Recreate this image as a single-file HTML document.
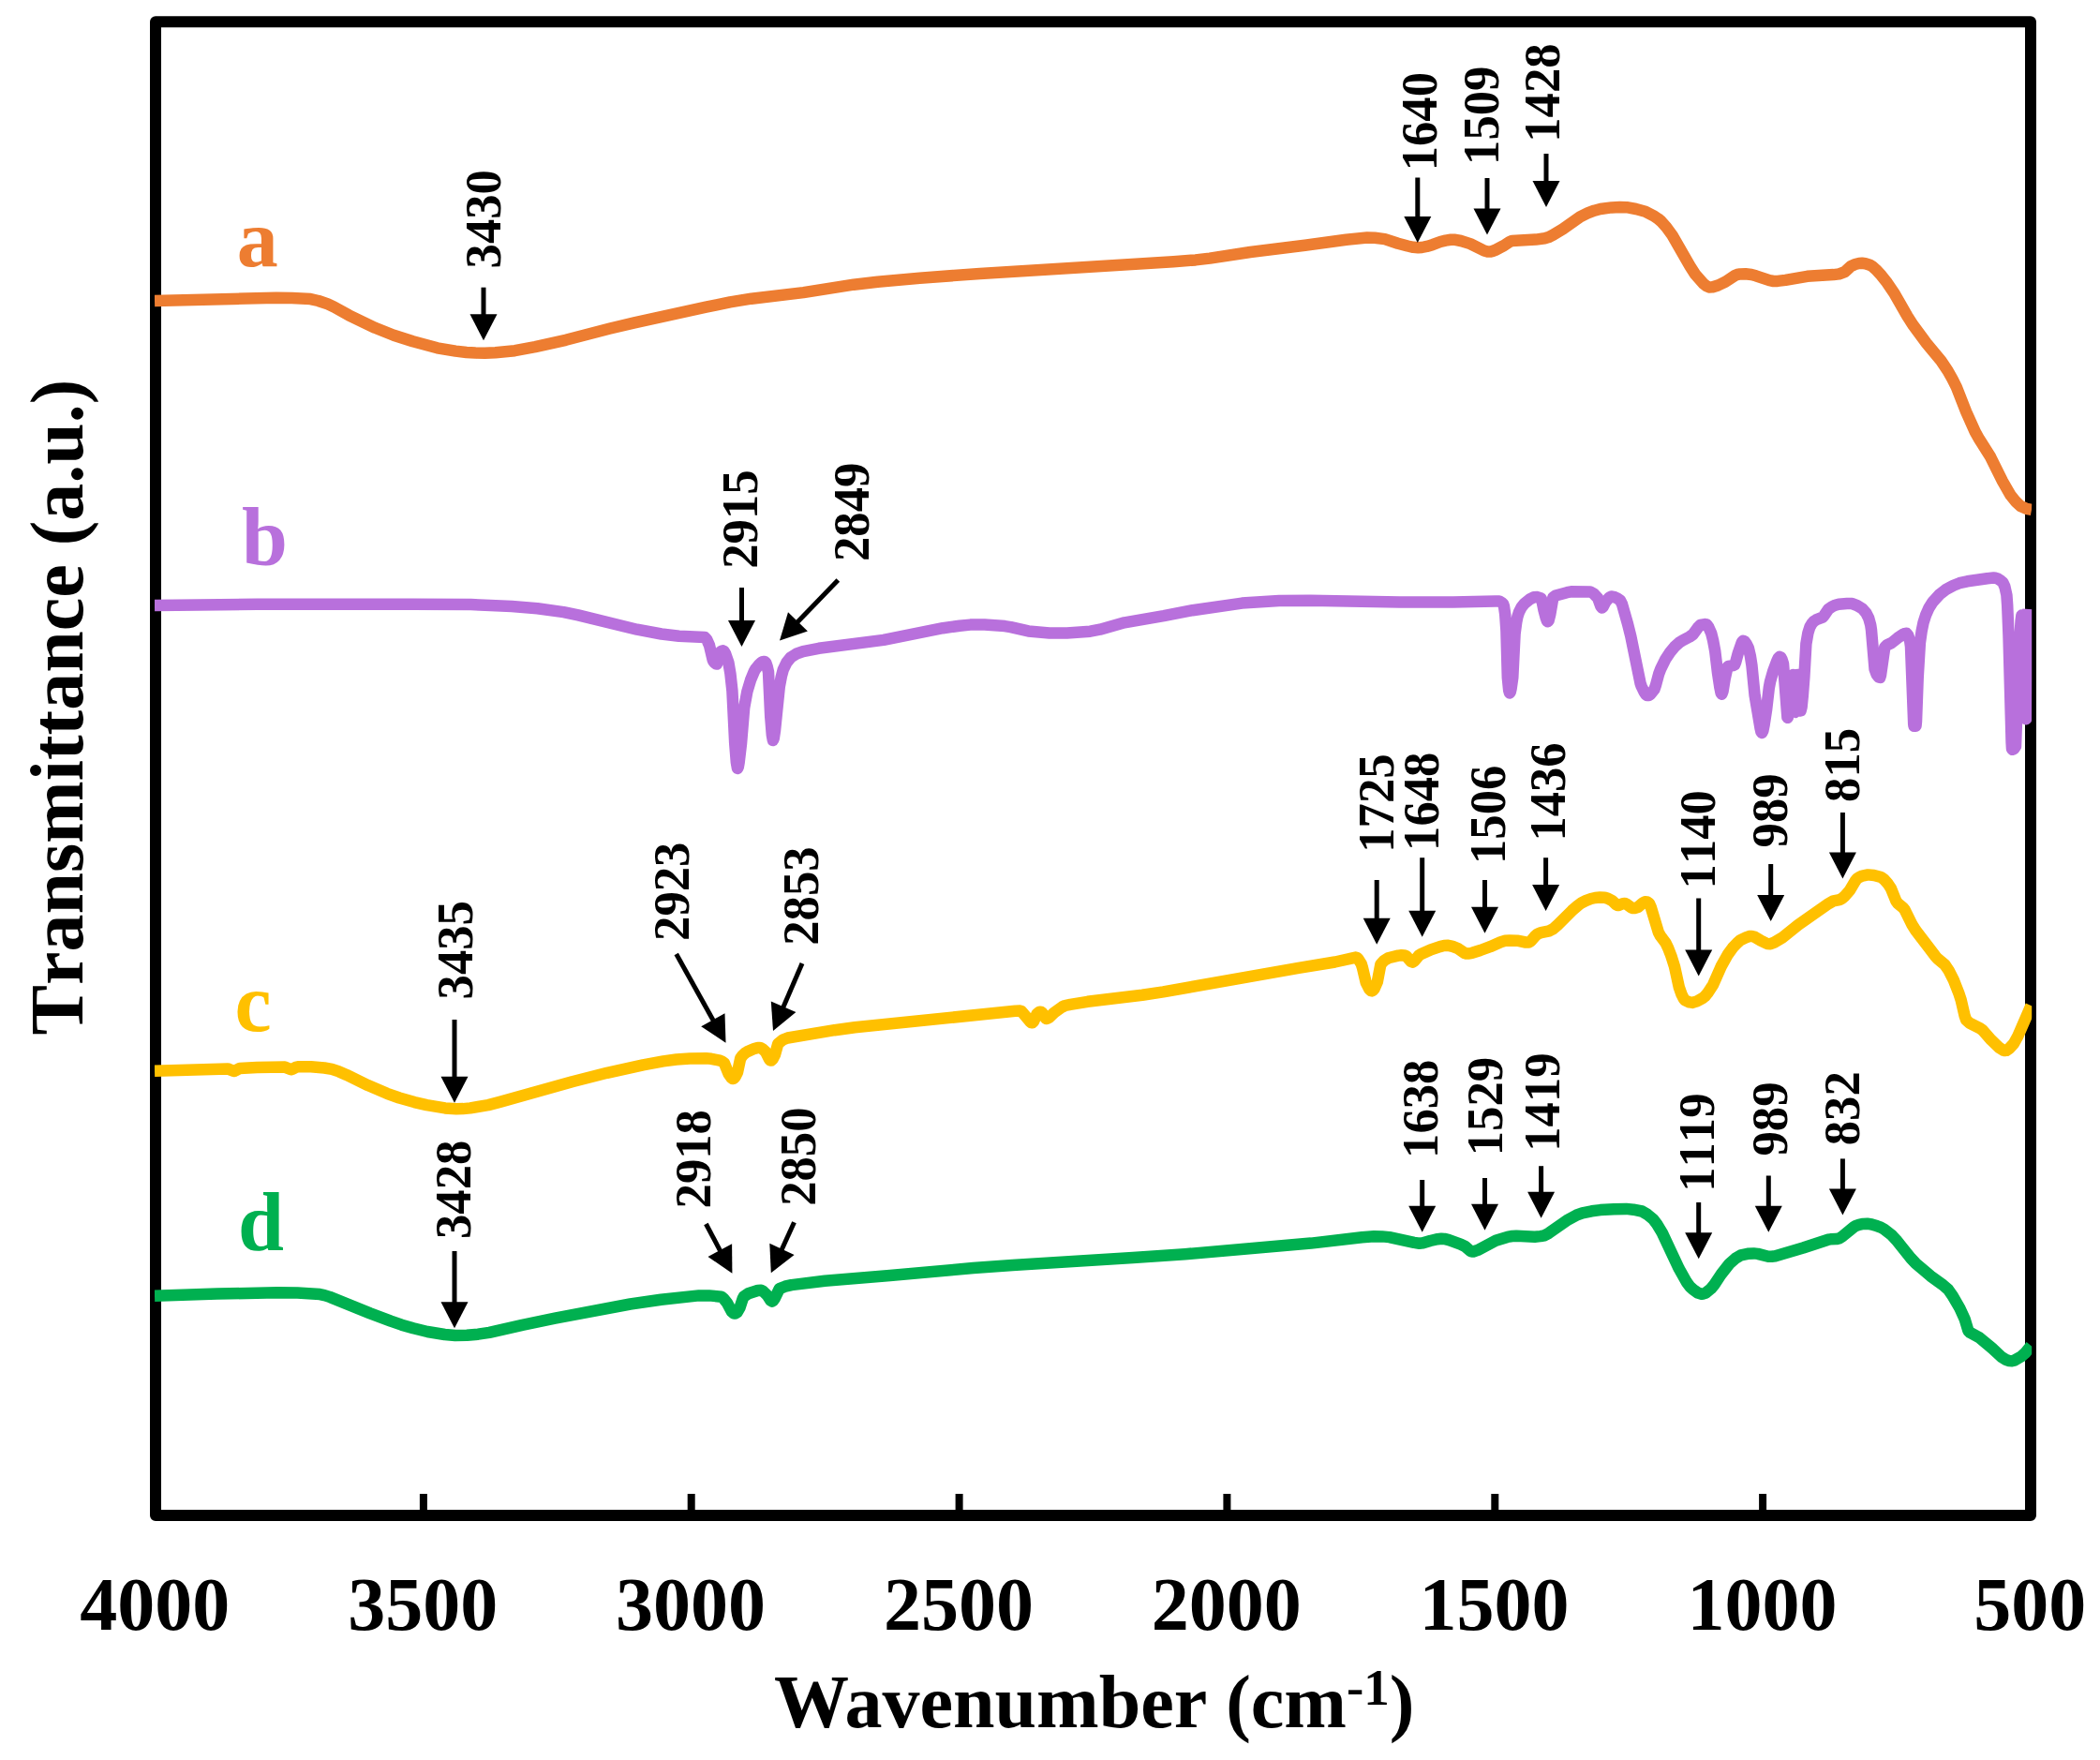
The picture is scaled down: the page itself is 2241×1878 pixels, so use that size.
<!DOCTYPE html>
<html lang="en"><head><meta charset="utf-8"><title>FTIR spectra</title>
<style>
html,body{margin:0;padding:0;background:#fff}
body{width:2241px;height:1878px;overflow:hidden}
svg{display:block;filter:blur(0.6px)}
text{font-family:"Liberation Serif","Times New Roman",serif;font-weight:bold;font-kerning:none}
.ax{font-size:80px}
.an{font-size:54px}
.lb{font-size:88px}
</style></head><body>
<svg width="2241" height="1878" viewBox="0 0 2241 1878">
<rect width="2241" height="1878" fill="#fff"/>
<rect x="166" y="23.3" width="2001" height="1593.7" fill="none" stroke="#000" stroke-width="12" stroke-linejoin="round"/>
<g stroke="#000" stroke-width="8">
<line x1="451.9" y1="1594" x2="451.9" y2="1612"/>
<line x1="737.7" y1="1594" x2="737.7" y2="1612"/>
<line x1="1023.6" y1="1594" x2="1023.6" y2="1612"/>
<line x1="1309.4" y1="1594" x2="1309.4" y2="1612"/>
<line x1="1595.3" y1="1594" x2="1595.3" y2="1612"/>
<line x1="1881.1" y1="1594" x2="1881.1" y2="1612"/>
</g>
<g class="ax" text-anchor="middle">
<text x="165.3" y="1738.5">4000</text>
<text x="451.2" y="1738.5">3500</text>
<text x="737.0" y="1738.5">3000</text>
<text x="1022.9" y="1738.5">2500</text>
<text x="1308.7" y="1738.5">2000</text>
<text x="1594.6" y="1738.5">1500</text>
<text x="1880.4" y="1738.5">1000</text>
<text x="2166.3" y="1738.5">500</text>
</g>
<text class="ax" x="826" y="1843" dx="0 -4.5">Wavenumber (cm<tspan font-size="55" dy="-24">-1</tspan><tspan dy="24">)</tspan></text>
<text class="ax" transform="translate(88,754.5) rotate(-90)" text-anchor="middle">Transmittance (a.u.)</text>
<clipPath id="cp"><rect x="164.8" y="0" width="2003.4" height="1878"/></clipPath>
<g fill="none" stroke-width="12.5" stroke-linejoin="round" stroke-linecap="butt" clip-path="url(#cp)">
<path stroke="#ED7D31" d="M165.0,321.0 L295.0,317.7 L311.4,318.0 L331.4,319.1 L339.8,321.0 L349.8,324.4 L356.6,327.6 L372.2,336.3 L400.2,349.8 L420.2,357.7 L440.6,364.3 L466.6,371.3 L486.2,374.6 L497.8,376.0 L507.4,376.6 L517.4,376.7 L528.6,376.2 L549.4,374.2 L571.0,370.2 L603.8,362.8 L651.0,350.5 L677.0,344.3 L753.4,327.6 L779.0,322.4 L801.8,318.7 L857.4,312.1 L911.0,303.7 L936.6,300.7 L981.4,296.7 L1045.8,292.0 L1252.2,279.2 L1275.8,277.4 L1291.0,275.6 L1334.2,269.0 L1392.6,261.8 L1436.6,255.8 L1459.0,253.5 L1467.0,253.7 L1477.8,255.1 L1491.8,259.7 L1502.2,262.5 L1508.2,263.8 L1513.4,264.3 L1517.4,264.0 L1522.6,262.9 L1528.6,261.2 L1537.0,258.0 L1542.6,256.6 L1548.2,255.8 L1553.0,255.8 L1559.0,257.0 L1569.0,260.1 L1583.8,267.5 L1587.4,268.5 L1590.2,268.6 L1593.0,267.9 L1596.2,266.6 L1604.2,262.4 L1610.6,258.3 L1613.4,257.1 L1639.0,255.6 L1648.6,254.3 L1652.6,253.1 L1657.4,250.7 L1667.8,244.4 L1686.2,231.3 L1694.2,227.4 L1701.4,224.7 L1707.8,223.0 L1719.8,221.4 L1728.6,220.9 L1735.8,221.2 L1745.8,223.0 L1755.8,225.7 L1765.0,230.6 L1769.4,233.4 L1772.6,236.1 L1778.2,242.4 L1784.6,251.1 L1803.4,283.9 L1809.0,292.7 L1817.8,302.6 L1821.0,305.1 L1823.8,306.4 L1827.8,306.3 L1833.4,304.5 L1841.4,300.6 L1851.4,294.0 L1853.8,293.0 L1857.0,292.4 L1862.6,292.2 L1869.0,293.0 L1873.8,294.3 L1888.2,299.2 L1892.6,300.0 L1897.0,299.9 L1905.4,298.9 L1928.6,294.8 L1956.6,293.1 L1962.6,292.4 L1968.6,290.2 L1975.4,283.9 L1979.8,282.0 L1983.8,281.0 L1987.0,280.8 L1990.6,281.3 L1995.4,282.8 L1998.2,284.4 L2001.8,287.6 L2007.8,294.1 L2013.8,301.7 L2021.8,313.6 L2035.4,337.4 L2041.8,347.3 L2055.8,366.2 L2071.4,385.0 L2078.6,395.7 L2083.4,404.2 L2087.8,413.0 L2098.2,439.5 L2107.8,460.9 L2112.2,468.7 L2124.2,487.7 L2137.0,513.5 L2145.4,528.1 L2151.0,535.1 L2156.2,540.0 L2162.6,542.9 L2168.0,543.9"/>
<path stroke="#B870DC" d="M165.0,646.0 L274.6,644.7 L440.6,644.8 L502.6,645.1 L546.2,646.9 L573.4,649.2 L601.4,653.1 L617.0,656.4 L679.8,671.7 L705.8,676.5 L724.6,678.8 L752.2,680.0 L754.2,682.3 L757.0,688.6 L760.6,703.8 L761.4,705.7 L762.6,707.1 L763.8,708.2 L765.0,708.6 L765.8,706.0 L767.4,697.2 L769.4,695.1 L771.4,694.3 L772.6,695.0 L774.2,697.7 L777.4,707.1 L779.4,718.7 L781.4,737.0 L784.2,792.9 L785.8,813.1 L787.0,820.0 L787.8,818.3 L788.6,813.9 L791.0,793.4 L794.2,755.0 L797.4,737.7 L801.0,725.7 L805.0,716.0 L806.6,713.4 L810.2,709.1 L812.6,706.9 L814.6,705.9 L816.2,705.9 L817.4,707.5 L818.6,711.0 L820.0,717.0 L822.2,764.3 L823.8,784.1 L824.9,790.0 L825.8,787.7 L827.0,779.5 L831.8,732.7 L833.8,722.0 L835.8,714.4 L839.4,707.0 L843.8,701.5 L849.8,697.7 L857.0,695.1 L873.8,691.8 L942.9,682.9 L1006.2,670.2 L1024.2,667.7 L1035.4,666.6 L1050.6,666.5 L1072.2,668.1 L1078.6,669.1 L1097.4,673.4 L1119.8,675.4 L1138.6,675.5 L1163.4,673.7 L1173.8,671.7 L1200.0,664.3 L1241.8,657.2 L1272.6,651.2 L1325.4,643.6 L1365.0,641.0 L1398.2,640.8 L1493.8,642.4 L1550.6,642.4 L1595.8,641.4 L1598.6,641.4 L1600.6,641.9 L1602.6,643.1 L1604.2,644.6 L1605.0,647.2 L1606.2,655.3 L1607.4,672.7 L1608.8,722.9 L1610.2,736.8 L1611.0,739.5 L1611.8,738.3 L1612.6,734.9 L1614.3,722.9 L1616.6,676.2 L1618.2,664.1 L1619.4,658.1 L1621.0,653.1 L1623.8,647.7 L1627.0,643.8 L1632.6,639.3 L1636.6,637.3 L1640.6,637.1 L1644.6,638.4 L1645.4,640.5 L1647.4,650.6 L1649.8,659.6 L1651.0,662.7 L1651.7,663.3 L1652.6,662.1 L1654.2,656.0 L1657.4,637.4 L1660.2,635.5 L1672.2,632.2 L1676.6,631.3 L1697.0,631.4 L1700.6,633.4 L1705.2,638.3 L1708.2,646.6 L1709.5,648.5 L1710.6,647.6 L1713.4,642.2 L1717.4,637.5 L1719.4,636.5 L1722.2,636.9 L1725.4,638.2 L1729.0,640.7 L1731.0,644.6 L1737.0,665.7 L1740.2,678.5 L1750.6,729.2 L1751.7,732.4 L1754.6,738.4 L1756.2,740.8 L1757.8,742.1 L1759.4,742.0 L1761.0,741.1 L1765.4,735.6 L1767.0,731.0 L1770.2,719.0 L1772.2,713.8 L1777.0,703.9 L1782.2,696.0 L1787.0,690.2 L1791.8,685.8 L1795.4,683.5 L1803.0,679.5 L1806.6,677.0 L1812.6,668.8 L1814.6,667.0 L1819.4,666.1 L1821.4,666.5 L1823.4,669.4 L1826.2,675.8 L1828.2,683.8 L1830.2,694.6 L1833.0,718.1 L1835.4,733.7 L1836.6,739.4 L1837.4,740.7 L1838.6,737.3 L1840.6,725.0 L1843.4,712.1 L1843.8,711.3 L1844.6,710.9 L1849.4,710.1 L1851.0,709.5 L1852.2,706.6 L1854.6,697.6 L1858.6,685.9 L1859.4,684.4 L1860.2,683.8 L1861.8,684.5 L1863.8,687.2 L1865.8,691.2 L1867.8,699.6 L1869.4,709.7 L1872.6,742.0 L1878.6,777.4 L1879.4,780.7 L1880.2,782.0 L1881.4,779.6 L1882.6,773.5 L1885.0,757.9 L1887.8,734.0 L1889.0,727.5 L1892.2,716.1 L1896.2,705.4 L1897.8,702.1 L1899.0,700.9 L1900.2,701.2 L1901.4,703.3 L1903.0,708.2 L1907.4,765.4 L1907.6,765.8 L1907.8,765.5 L1908.2,763.4 L1910.2,740.3 L1911.8,727.5 L1912.6,722.4 L1913.4,720.0 L1914.2,727.6 L1915.8,759.2 L1916.0,759.9 L1916.2,759.2 L1916.6,754.5 L1917.8,729.0 L1918.6,720.0 L1919.4,726.7 L1921.0,754.4 L1921.6,758.4 L1922.6,754.5 L1923.8,742.4 L1925.4,721.7 L1927.4,686.8 L1929.4,675.4 L1931.4,669.0 L1933.4,665.6 L1935.4,663.2 L1938.2,661.3 L1945.0,658.6 L1946.6,656.8 L1951.0,650.2 L1955.0,647.4 L1958.6,645.7 L1962.2,644.7 L1971.0,644.0 L1976.6,644.1 L1981.8,646.1 L1987.4,649.5 L1991.4,654.1 L1994.2,659.6 L1996.2,666.8 L1997.0,672.2 L2000.6,714.2 L2002.6,719.6 L2005.0,722.7 L2006.2,722.9 L2007.0,720.5 L2011.3,690.5 L2013.8,688.2 L2018.6,686.0 L2025.0,680.8 L2031.4,676.5 L2033.0,675.9 L2034.6,675.8 L2036.2,677.8 L2038.2,684.2 L2039.0,689.9 L2042.2,772.4 L2042.5,774.7 L2044.5,774.7 L2045.0,769.6 L2046.7,723.0 L2048.9,686.0 L2050.6,673.8 L2052.6,664.1 L2055.0,656.6 L2058.2,649.2 L2062.6,642.2 L2069.4,634.7 L2076.2,629.3 L2084.6,624.7 L2091.0,622.2 L2099.4,620.3 L2120.6,617.2 L2127.4,616.6 L2129.8,616.8 L2132.2,617.7 L2135.0,619.5 L2137.4,621.7 L2139.4,626.0 L2141.4,635.0 L2142.2,646.3 L2143.5,678.6 L2146.6,792.4 L2147.0,798.9 L2147.4,799.8 L2149.4,798.8 L2151.0,796.4 L2155.0,687.4 L2156.6,662.6 L2157.4,656.6 L2157.8,658.8 L2158.6,681.4 L2160.5,764.3 L2161.4,766.8 L2162.0,767.3 L2163.8,662.3 L2164.6,650.0"/>
<path stroke="#FFC000" d="M165.0,1142.7 L243.0,1140.4 L249.5,1143.0 L251.0,1142.6 L255.8,1140.0 L274.2,1139.1 L304.0,1138.6 L310.5,1141.2 L312.2,1140.7 L316.2,1138.6 L318.6,1138.3 L331.8,1138.3 L346.2,1139.5 L354.2,1140.8 L361.8,1143.4 L369.8,1146.9 L392.6,1158.1 L413.0,1166.8 L426.2,1171.5 L442.2,1176.1 L455.4,1179.2 L475.0,1182.4 L487.0,1183.3 L494.2,1183.1 L501.8,1182.4 L521.0,1179.1 L533.4,1175.9 L610.6,1154.2 L647.8,1144.8 L686.2,1136.3 L707.8,1132.4 L721.8,1130.5 L736.2,1129.5 L753.4,1129.3 L759.0,1129.8 L768.2,1131.6 L771.0,1132.9 L773.0,1134.6 L777.6,1145.9 L780.6,1150.1 L781.8,1151.0 L782.6,1151.0 L784.6,1149.0 L787.0,1144.2 L790.2,1129.3 L792.6,1126.0 L795.0,1123.8 L797.4,1122.3 L805.0,1118.9 L808.6,1117.9 L811.0,1117.9 L813.4,1119.1 L817.0,1122.2 L821.0,1130.3 L821.9,1131.4 L823.0,1131.6 L824.6,1130.0 L827.0,1125.4 L830.2,1113.8 L835.4,1109.5 L840.6,1107.5 L890.6,1099.2 L912.2,1096.3 L1083.4,1078.8 L1088.6,1078.6 L1090.2,1079.2 L1099.4,1090.1 L1100.6,1091.1 L1101.8,1091.3 L1103.0,1089.9 L1106.6,1081.9 L1109.0,1080.0 L1110.6,1079.7 L1111.8,1080.3 L1115.8,1086.4 L1116.6,1087.0 L1117.4,1086.9 L1119.8,1085.5 L1125.0,1080.5 L1133.4,1074.5 L1136.6,1073.0 L1142.2,1071.8 L1160.6,1068.8 L1219.0,1061.7 L1241.4,1058.4 L1385.8,1032.9 L1424.6,1026.5 L1446.7,1021.6 L1447.8,1021.8 L1449.4,1023.2 L1452.7,1028.6 L1453.8,1031.9 L1457.7,1048.4 L1461.4,1055.6 L1463.0,1057.2 L1464.2,1057.4 L1465.4,1056.6 L1466.6,1055.0 L1469.8,1047.8 L1473.4,1028.9 L1477.0,1025.0 L1481.4,1022.3 L1492.2,1019.6 L1495.4,1019.3 L1498.6,1019.5 L1500.6,1020.2 L1505.4,1025.7 L1507.4,1026.6 L1509.4,1025.4 L1514.2,1019.5 L1516.6,1017.9 L1526.2,1013.7 L1536.6,1010.1 L1541.0,1009.0 L1545.4,1008.8 L1550.2,1009.9 L1556.2,1012.3 L1563.0,1017.0 L1564.6,1017.5 L1566.6,1017.6 L1571.0,1016.8 L1579.8,1014.0 L1590.2,1010.2 L1601.4,1005.2 L1606.2,1003.8 L1611.0,1003.4 L1619.0,1003.7 L1628.2,1005.5 L1631.4,1005.6 L1633.8,1004.0 L1638.6,998.4 L1641.0,996.5 L1644.6,995.1 L1653.4,993.3 L1657.8,990.9 L1662.2,987.0 L1677.4,971.8 L1683.8,966.2 L1687.8,963.3 L1692.2,961.1 L1697.8,959.0 L1702.2,958.0 L1707.4,957.5 L1712.6,957.7 L1715.8,958.7 L1720.6,961.3 L1724.2,964.8 L1726.0,965.9 L1727.8,965.9 L1731.8,964.1 L1733.8,963.9 L1735.8,964.7 L1740.6,968.3 L1742.6,969.0 L1745.0,968.9 L1748.2,967.8 L1753.4,963.3 L1755.4,962.3 L1757.8,962.5 L1759.9,963.9 L1761.8,968.1 L1769.8,994.8 L1771.8,998.5 L1777.4,1005.9 L1780.2,1011.8 L1783.4,1020.0 L1787.0,1031.3 L1791.8,1053.4 L1794.6,1061.3 L1796.6,1065.3 L1798.2,1067.3 L1803.0,1069.4 L1806.2,1069.9 L1811.0,1068.4 L1816.6,1065.3 L1819.4,1063.1 L1822.2,1059.8 L1828.2,1050.6 L1836.6,1031.4 L1843.8,1018.5 L1849.0,1011.3 L1853.8,1006.2 L1857.4,1003.1 L1864.2,999.9 L1867.0,999.1 L1869.4,998.9 L1872.6,999.8 L1879.0,1003.7 L1885.8,1007.0 L1889.4,1007.2 L1893.4,1005.7 L1902.2,1000.3 L1919.0,986.8 L1951.4,964.2 L1956.6,961.3 L1963.0,960.1 L1965.8,958.7 L1969.0,955.8 L1974.2,949.7 L1979.8,940.1 L1981.8,937.5 L1984.2,936.0 L1987.4,934.6 L1993.4,933.4 L1999.8,934.0 L2007.4,936.0 L2010.6,938.3 L2014.6,942.9 L2017.8,947.7 L2023.4,961.5 L2025.4,964.1 L2030.6,968.3 L2032.6,970.7 L2040.6,986.9 L2044.2,992.6 L2065.4,1020.4 L2068.2,1023.4 L2075.4,1029.4 L2079.4,1035.2 L2085.0,1046.2 L2090.6,1060.6 L2092.6,1066.7 L2096.6,1083.9 L2098.2,1088.4 L2101.8,1091.6 L2112.2,1096.8 L2115.4,1098.9 L2125.0,1109.8 L2133.8,1118.2 L2138.2,1120.8 L2139.4,1121.1 L2141.0,1120.9 L2144.2,1118.8 L2149.0,1113.5 L2153.4,1105.5 L2167.5,1073.0"/>
<path stroke="#00B050" d="M165.0,1382.7 L231.8,1380.6 L295.8,1379.3 L317.4,1379.6 L341.4,1381.1 L346.2,1382.1 L351.8,1383.9 L395.0,1401.4 L417.0,1409.7 L428.6,1413.7 L441.0,1417.3 L456.2,1421.0 L474.6,1424.0 L485.8,1425.0 L498.2,1424.8 L510.2,1423.7 L522.2,1421.8 L557.4,1413.8 L592.2,1406.7 L672.6,1391.5 L705.4,1386.7 L745.8,1382.4 L756.6,1382.4 L769.8,1383.7 L772.2,1385.6 L776.2,1390.7 L781.0,1399.7 L783.0,1401.3 L784.6,1401.6 L786.6,1400.3 L789.5,1395.4 L792.6,1385.9 L793.8,1383.5 L798.6,1380.3 L808.6,1377.0 L812.2,1376.8 L814.6,1378.1 L819.0,1382.4 L822.2,1387.4 L823.8,1388.6 L825.0,1388.0 L826.6,1385.7 L831.8,1375.1 L837.8,1372.7 L844.6,1371.1 L880.2,1366.7 L949.8,1361.0 L1038.6,1353.1 L1080.6,1350.0 L1209.0,1342.1 L1264.6,1338.2 L1399.0,1326.6 L1453.4,1320.3 L1466.2,1319.3 L1475.0,1319.4 L1482.6,1320.1 L1509.0,1325.9 L1514.6,1326.7 L1518.6,1326.3 L1526.2,1324.0 L1534.2,1322.2 L1538.2,1321.7 L1541.4,1321.9 L1546.2,1323.1 L1558.6,1327.6 L1563.8,1330.2 L1569.4,1335.1 L1570.6,1335.6 L1572.2,1335.5 L1577.0,1333.9 L1596.2,1323.7 L1608.6,1319.9 L1613.8,1319.0 L1618.2,1318.7 L1637.8,1319.7 L1643.8,1319.1 L1648.2,1318.3 L1652.6,1315.9 L1673.4,1301.4 L1682.2,1296.7 L1688.6,1294.3 L1698.6,1292.3 L1707.8,1291.1 L1722.2,1290.2 L1735.4,1289.9 L1743.0,1290.7 L1752.2,1292.5 L1757.8,1295.7 L1764.2,1301.0 L1768.2,1306.3 L1773.8,1315.5 L1791.8,1353.8 L1799.8,1368.0 L1803.4,1372.9 L1807.0,1376.2 L1811.8,1379.5 L1815.8,1380.7 L1817.8,1380.5 L1820.2,1379.6 L1825.9,1375.0 L1829.4,1370.7 L1836.6,1359.9 L1845.4,1348.6 L1852.2,1342.6 L1857.8,1339.3 L1865.0,1337.8 L1871.4,1337.4 L1875.8,1337.9 L1887.0,1340.8 L1890.6,1340.8 L1894.6,1340.3 L1924.2,1331.5 L1950.9,1322.7 L1953.4,1322.3 L1959.8,1322.1 L1962.6,1321.5 L1965.8,1319.5 L1978.2,1309.3 L1980.2,1308.1 L1983.8,1306.8 L1988.2,1305.9 L1992.6,1305.7 L1997.4,1306.5 L2003.4,1308.3 L2007.0,1309.6 L2010.6,1311.6 L2019.0,1318.2 L2023.4,1322.9 L2039.0,1342.4 L2044.2,1347.9 L2060.2,1361.6 L2073.4,1371.1 L2079.0,1376.0 L2083.8,1382.8 L2091.4,1396.0 L2096.6,1407.3 L2100.2,1419.3 L2100.9,1420.5 L2102.6,1422.1 L2112.2,1427.2 L2125.9,1438.6 L2136.2,1448.2 L2140.6,1450.8 L2144.2,1452.1 L2147.0,1452.3 L2149.4,1451.7 L2157.0,1447.4 L2161.4,1443.5 L2167.5,1436.0"/>
</g>
<g stroke="#000" stroke-width="5" fill="#000">
<line x1="516.0" y1="306.7" x2="516.0" y2="337.3"/><polygon stroke="none" points="516.0,363.3 501.5,335.3 530.5,335.3"/>
<line x1="1512.8" y1="189.5" x2="1512.8" y2="233.0"/><polygon stroke="none" points="1512.8,259.0 1498.3,231.0 1527.3,231.0"/>
<line x1="1587.0" y1="190.0" x2="1587.0" y2="224.6"/><polygon stroke="none" points="1587.0,250.6 1572.5,222.6 1601.5,222.6"/>
<line x1="1650.0" y1="164.0" x2="1650.0" y2="195.0"/><polygon stroke="none" points="1650.0,221.0 1635.5,193.0 1664.5,193.0"/>
<line x1="791.5" y1="627.0" x2="791.5" y2="664.0"/><polygon stroke="none" points="791.5,690.0 777.0,662.0 806.0,662.0"/>
<line x1="894.3" y1="619.0" x2="850.1" y2="664.7"/><polygon stroke="none" points="832.0,683.4 841.0,653.2 861.9,673.4"/>
<line x1="485.0" y1="1088.0" x2="485.0" y2="1150.7"/><polygon stroke="none" points="485.0,1176.7 470.5,1148.7 499.5,1148.7"/>
<line x1="721.7" y1="1018.0" x2="761.8" y2="1090.0"/><polygon stroke="none" points="774.5,1112.7 748.2,1095.3 773.5,1081.2"/>
<line x1="856.0" y1="1028.0" x2="835.3" y2="1076.0"/><polygon stroke="none" points="825.0,1099.9 822.8,1068.4 849.4,1079.9"/>
<line x1="1469.2" y1="939.0" x2="1469.2" y2="981.7"/><polygon stroke="none" points="1469.2,1007.7 1454.7,979.7 1483.7,979.7"/>
<line x1="1517.7" y1="915.2" x2="1517.7" y2="973.7"/><polygon stroke="none" points="1517.7,999.7 1503.2,971.7 1532.2,971.7"/>
<line x1="1584.5" y1="939.0" x2="1584.5" y2="969.7"/><polygon stroke="none" points="1584.5,995.7 1570.0,967.7 1599.0,967.7"/>
<line x1="1649.6" y1="915.2" x2="1649.6" y2="945.9"/><polygon stroke="none" points="1649.6,971.9 1635.1,943.9 1664.1,943.9"/>
<line x1="1812.7" y1="958.5" x2="1812.7" y2="1015.4"/><polygon stroke="none" points="1812.7,1041.4 1798.2,1013.4 1827.2,1013.4"/>
<line x1="1889.7" y1="922.0" x2="1889.7" y2="957.0"/><polygon stroke="none" points="1889.7,983.0 1875.2,955.0 1904.2,955.0"/>
<line x1="1966.4" y1="867.0" x2="1966.4" y2="911.5"/><polygon stroke="none" points="1966.4,937.5 1951.9,909.5 1980.9,909.5"/>
<line x1="485.0" y1="1335.0" x2="485.0" y2="1391.3"/><polygon stroke="none" points="485.0,1417.3 470.5,1389.3 499.5,1389.3"/>
<line x1="753.4" y1="1306.0" x2="769.2" y2="1335.8"/><polygon stroke="none" points="781.4,1358.8 755.5,1340.9 781.1,1327.3"/>
<line x1="847.5" y1="1304.3" x2="833.6" y2="1334.7"/><polygon stroke="none" points="822.8,1358.3 821.3,1326.8 847.6,1338.9"/>
<line x1="1517.7" y1="1259.0" x2="1517.7" y2="1288.8"/><polygon stroke="none" points="1517.7,1314.8 1503.2,1286.8 1532.2,1286.8"/>
<line x1="1584.5" y1="1257.0" x2="1584.5" y2="1286.8"/><polygon stroke="none" points="1584.5,1312.8 1570.0,1284.8 1599.0,1284.8"/>
<line x1="1644.6" y1="1244.2" x2="1644.6" y2="1273.8"/><polygon stroke="none" points="1644.6,1299.8 1630.1,1271.8 1659.1,1271.8"/>
<line x1="1812.7" y1="1283.0" x2="1812.7" y2="1317.2"/><polygon stroke="none" points="1812.7,1343.2 1798.2,1315.2 1827.2,1315.2"/>
<line x1="1887.3" y1="1254.5" x2="1887.3" y2="1288.8"/><polygon stroke="none" points="1887.3,1314.8 1872.8,1286.8 1901.8,1286.8"/>
<line x1="1966.4" y1="1236.4" x2="1966.4" y2="1270.6"/><polygon stroke="none" points="1966.4,1296.6 1951.9,1268.6 1980.9,1268.6"/>
</g>
<g class="an">
<text transform="translate(533.5,286.4) rotate(-90) scale(0.975,1)">3430</text>
<text transform="translate(1532.7,182.3) rotate(-90) scale(0.975,1)">1640</text>
<text transform="translate(1598.8,175.9) rotate(-90) scale(0.975,1)">1509</text>
<text transform="translate(1664.2,151.7) rotate(-90) scale(0.975,1)">1428</text>
<text transform="translate(808.0,606.7) rotate(-90) scale(0.975,1)">2915</text>
<text transform="translate(927.0,599.0) rotate(-90) scale(0.975,1)">2849</text>
<text transform="translate(503.9,1066.4) rotate(-90) scale(0.975,1)">3435</text>
<text transform="translate(735.4,1003.9) rotate(-90) scale(0.975,1)">2923</text>
<text transform="translate(872.6,1008.7) rotate(-90) scale(0.975,1)">2853</text>
<text transform="translate(1486.7,909.7) rotate(-90) scale(0.975,1)">1725</text>
<text transform="translate(1535.0,907.9) rotate(-90) scale(0.975,1)">1648</text>
<text transform="translate(1606.2,922.0) rotate(-90) scale(0.975,1)">1506</text>
<text transform="translate(1669.6,897.6) rotate(-90) scale(0.975,1)">1436</text>
<text transform="translate(1830.2,948.4) rotate(-90) scale(0.975,1)">1140</text>
<text transform="translate(1906.7,904.4) rotate(-90) scale(0.975,1)">989</text>
<text transform="translate(1983.7,855.9) rotate(-90) scale(0.975,1)">815</text>
<text transform="translate(502.4,1322.0) rotate(-90) scale(0.975,1)">3428</text>
<text transform="translate(758.0,1289.4) rotate(-90) scale(0.975,1)">2918</text>
<text transform="translate(869.8,1286.8) rotate(-90) scale(0.975,1)">2850</text>
<text transform="translate(1533.5,1235.9) rotate(-90) scale(0.975,1)">1638</text>
<text transform="translate(1603.0,1233.2) rotate(-90) scale(0.975,1)">1529</text>
<text transform="translate(1663.7,1228.7) rotate(-90) scale(0.975,1)">1419</text>
<text transform="translate(1828.8,1271.8) rotate(-90) scale(0.975,1)">1119</text>
<text transform="translate(1906.8,1233.5) rotate(-90) scale(0.975,1)">989</text>
<text transform="translate(1984.0,1222.2) rotate(-90) scale(0.975,1)">832</text>
</g>
<g class="lb">
<text x="252.8" y="283.8" fill="#ED7D31">a</text>
<text x="258.0" y="603.0" fill="#B870DC">b</text>
<text x="250.5" y="1100.2" fill="#FFC000">c</text>
<text x="253.9" y="1334.3" fill="#00B050">d</text>
</g>
</svg>
</body></html>
